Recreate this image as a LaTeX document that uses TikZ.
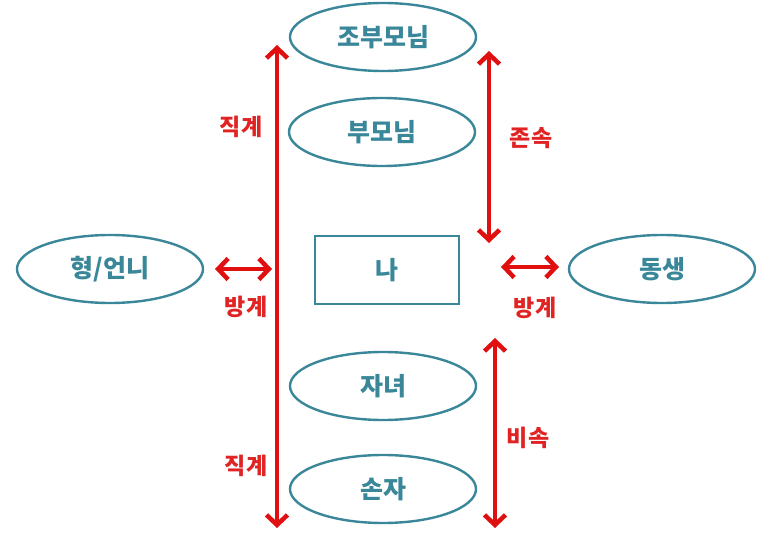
\documentclass[tikz,border=0pt]{standalone}
\usepackage{fontspec}
\newfontfamily\kr{Noto Sans CJK KR}
\usetikzlibrary{shapes.geometric,arrows.meta}
\definecolor{teal}{HTML}{3A8799}
\definecolor{arrred}{HTML}{E01010}
\definecolor{labred}{HTML}{E02424}
\tikzset{
  oval/.style={ellipse, draw=teal, line width=2.4pt, minimum width=186pt, minimum height=68pt, inner sep=0pt, text=teal, font=\kr\bfseries\fontsize{25}{27}\selectfont},
  mebox/.style={rectangle, draw=teal, line width=2.4pt, minimum width=144pt, minimum height=68pt, inner sep=0pt, text=teal, font=\kr\bfseries\fontsize{25}{27}\selectfont},
  rel/.style={text=labred, font=\kr\bfseries\fontsize{23}{25}\selectfont, inner sep=0pt},
  darr/.style={draw=arrred, line width=4.5pt, {Straight Barb[length=10pt,width=21pt]}-{Straight Barb[length=10pt,width=21pt]}}
}
\begin{document}
\begin{tikzpicture}[x=1pt,y=-1pt]
\useasboundingbox (0,0) rectangle (769,546);
\node[oval] (gp) at (383,37) {조부모님};
\node[oval] (p) at (382,132) {부모님};
\node[mebox] (me) at (387,270) {나};
\node[oval] (sib) at (110,269) {형/언니};
\node[oval] (yng) at (662,269) {동생};
\node[oval] (ch) at (383,386) {자녀};
\node[oval] (gc) at (383,489) {손자};

\coordinate (lt) at (277,45);
\coordinate (lb) at (277,528);
\coordinate (rt) at (489,51);
\coordinate (rb) at (489,243);
\coordinate (rt2) at (495,338);
\coordinate (rb2) at (495,528);
\coordinate (hl1) at (215,269);
\coordinate (hl2) at (272,269);
\coordinate (hr1) at (501,267);
\coordinate (hr2) at (559,267);

\draw[darr] (lt) -- (lb);
\draw[darr] (rt) -- (rb);
\draw[darr] (rt2) -- (rb2);
\draw[darr] (hl1) -- (hl2);
\draw[darr] (hr1) -- (hr2);

\node[rel] (l1) at (241,127) {직계};
\node[rel] (l2) at (531,138) {존속};
\node[rel] (l3) at (246,307) {방계};
\node[rel] (l4) at (535,308) {방계};
\node[rel] (l5) at (528,438) {비속};
\node[rel] (l6) at (246,466) {직계};
\end{tikzpicture}
\end{document}
